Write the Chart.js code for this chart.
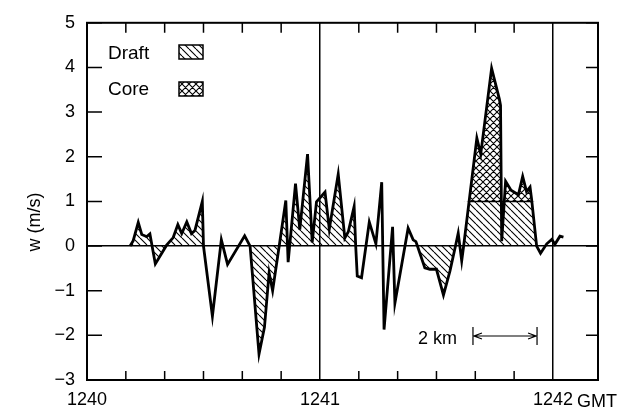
<!DOCTYPE html>
<html>
<head>
<meta charset="utf-8">
<script src="https://cdn.jsdelivr.net/npm/chart.js@4/dist/chart.umd.min.js"></script>
<style>
  html, body { margin: 0; padding: 0; background: #fff; }
  #wrap { width: 626px; height: 412px; }
</style>
</head>
<body>
<div id="wrap"><canvas id="chart" width="626" height="412"></canvas></div>
<script>
// seconds after 1240 GMT, vertical velocity w (m/s)
const times = [11.1, 11.9, 13.2, 14.1, 15.4, 16.2, 17.6, 20.5, 22.2, 23.4,
  24.4, 25.7, 26.9, 27.8, 29.7, 30.0, 32.3, 34.6, 36.2, 40.6,
  42.0, 44.3, 45.7, 46.9, 47.8, 49.5, 51.2, 51.8, 53.7, 54.8,
  56.8, 58.0, 59.1, 61.3, 62.4, 64.7, 66.4, 67.3, 68.8, 69.2,
  69.6, 70.7, 72.7, 74.4, 75.9, 76.5, 78.7, 79.3, 82.7, 84.0,
  84.7, 85.1, 87.0, 88.3, 90.0, 91.8, 93.5, 94.9, 95.6, 96.5,
  97.0, 100.4, 101.4, 104.2, 106.2, 106.5, 106.8, 107.8, 109.2, 111.1,
  112.2, 113.2, 114.1, 114.5, 115.8, 116.8, 118.4, 119.7, 120.5, 121.8, 122.7];
const w = [0, 0.12, 0.53, 0.26, 0.21, 0.27, -0.40, 0.02, 0.19, 0.48,
  0.28, 0.54, 0.28, 0.35, 1.00, 0, -1.57, 0.14, -0.41, 0.23,
  0, -2.42, -1.82, -0.60, -1.00, 0, 1.02, -0.36, 1.40, 0.37,
  2.06, 0.08, 0.99, 1.21, 0.38, 1.61, 0.18, 0.32, 0.89, 0,
  -0.67, -0.71, 0.54, 0.05, 1.43, -1.87, 0.43, -1.28, 0.40, 0.14,
  0.10, 0, -0.49, -0.52, -0.52, -1.10, -0.55, 0, 0.29, -0.33,
  0, 2.42, 2.06, 3.98, 3.29, 3.15, 0.11, 1.45, 1.25, 1.15,
  1.56, 1.22, 1.32, 1.05, 0, -0.16, 0.05, 0.15, 0.04, 0.22, 0.20];

// hatched draft intervals and cross-hatched core (w above coreLevel)
const draftStart = [11.1, 42.0, 49.5, 85.1, 97.0];
const draftEnd = [30.0, 49.5, 69.2, 94.9, 115.8];
const coreStart = [97.0];
const coreEnd = [115.8];
const coreLevel = 1;
const coreLevelSpan = [98.4, 114.5];

const xTickLabels = {0: '1240', 60: '1241', 120: '1242'};
const yTicks = [-3, -2, -1, 0, 1, 2, 3, 4, 5];

const FONT = '"Liberation Sans", Arial, sans-serif';

function pts(a, b) {
  const out = [];
  times.forEach((t, i) => { if (t >= a && t <= b) out.push({x: t, y: w[i]}); });
  return out;
}

function hatch(cross) {
  const s = 7;
  const c = document.createElement('canvas');
  c.width = s; c.height = s;
  const g = c.getContext('2d');
  if (cross) { g.fillStyle = '#fff'; g.fillRect(0, 0, s, s); }
  g.strokeStyle = '#000';
  g.lineWidth = 1.1;
  g.beginPath();
  for (const k of [-s, 0, s]) {
    g.moveTo(k, 0); g.lineTo(k + s, s);
    if (cross) { g.moveTo(k, s); g.lineTo(k + s, 0); }
  }
  g.stroke();
  return g.createPattern(c, 'repeat');
}
const draftPat = hatch(false);
const corePat = hatch(true);

const datasets = [{
  data: times.map((t, i) => ({x: t, y: w[i]})),
  borderColor: '#000', borderWidth: 2.8, pointRadius: 0, fill: false, order: 0,
  borderJoinStyle: 'miter'
}, {
  data: coreLevelSpan.map(t => ({x: t, y: coreLevel})),
  borderColor: '#000', borderWidth: 1.5, pointRadius: 0, fill: false, order: 1
}];
coreStart.forEach((s, i) => datasets.push({
  data: pts(s, coreEnd[i]), borderWidth: 0, pointRadius: 0, order: 2,
  fill: {target: {value: coreLevel}, above: corePat, below: 'rgba(0,0,0,0)'}
}));
draftStart.forEach((s, i) => datasets.push({
  data: pts(s, draftEnd[i]), borderWidth: 0, pointRadius: 0, order: 3,
  fill: 'origin', backgroundColor: draftPat
}));

const extras = {
  id: 'extras',
  afterDraw(chart) {
    const {ctx, chartArea: a, scales: {x, y}} = chart;
    ctx.save();
    ctx.strokeStyle = '#000';
    ctx.lineWidth = 2;
    ctx.strokeRect(a.left, a.top, a.right - a.left, a.bottom - a.top);
    ctx.lineWidth = 1.5;
    ctx.beginPath();
    yTicks.forEach(v => {
      const py = y.getPixelForValue(v);
      ctx.moveTo(a.left, py); ctx.lineTo(a.left + 15, py);
      ctx.moveTo(a.right, py); ctx.lineTo(a.right - 12, py);
    });
    for (let v = 10; v <= 110; v += 10) {
      if (v % 60 === 0) continue;
      const px = x.getPixelForValue(v);
      ctx.moveTo(px, a.top); ctx.lineTo(px, a.top + 10);
      ctx.moveTo(px, a.bottom); ctx.lineTo(px, a.bottom - 9);
    }
    ctx.stroke();

    ctx.fillStyle = '#000';
    ctx.font = '18px ' + FONT;
    ctx.textBaseline = 'alphabetic';
    ctx.fillText('GMT', 577, 407);

    // legend
    ctx.font = '19px ' + FONT;
    ctx.fillText('Draft', 108, 59);
    ctx.fillText('Core', 108, 95);
    ctx.lineWidth = 1.5;
    ctx.fillStyle = draftPat;
    ctx.fillRect(179, 45, 24, 14); ctx.strokeRect(179, 45, 24, 14);
    ctx.fillStyle = corePat;
    ctx.fillRect(179, 82, 24, 14); ctx.strokeRect(179, 82, 24, 14);

    // 2 km scale bar
    ctx.fillStyle = '#000';
    ctx.font = '18px ' + FONT;
    ctx.fillText('2 km', 418, 344);
    const x1 = x.getPixelForValue(99.4), x2 = x.getPixelForValue(115.9), yb = 336;
    ctx.lineWidth = 1.2;
    ctx.beginPath();
    ctx.moveTo(x1, yb - 9); ctx.lineTo(x1, yb + 9);
    ctx.moveTo(x2, yb - 9); ctx.lineTo(x2, yb + 9);
    ctx.moveTo(x1, yb); ctx.lineTo(x2, yb);
    ctx.moveTo(x1 + 9, yb - 3); ctx.lineTo(x1 + 1, yb); ctx.lineTo(x1 + 9, yb + 3);
    ctx.moveTo(x2 - 9, yb - 3); ctx.lineTo(x2 - 1, yb); ctx.lineTo(x2 - 9, yb + 3);
    ctx.stroke();

    // y axis title
    ctx.translate(35, 222);
    ctx.rotate(-Math.PI / 2);
    ctx.textAlign = 'center';
    ctx.textBaseline = 'middle';
    ctx.font = '18px ' + FONT;
    ctx.fillText('w (m/s)', 0, 0);
    ctx.restore();
  }
};

new Chart(document.getElementById('chart'), {
  type: 'line',
  data: {datasets},
  options: {
    responsive: false,
    animation: false,
    layout: {padding: {top: 13, right: 28, left: 0, bottom: 0}},
    plugins: {legend: {display: false}, tooltip: {enabled: false}},
    scales: {
      x: {
        type: 'linear', min: 0, max: 131.6,
        afterFit: s => { s.height = 32; },
        border: {display: false},
        grid: {
          drawTicks: false, lineWidth: 1.5,
          color: c => (c.tick && (c.tick.value === 60 || c.tick.value === 120)) ? '#000' : 'rgba(0,0,0,0)'
        },
        ticks: {
          stepSize: 10, autoSkip: false, maxRotation: 0, padding: 9,
          color: '#000', font: {family: FONT, size: 18},
          callback: v => xTickLabels[v] || ''
        }
      },
      y: {
        min: -3, max: 5,
        afterFit: s => { s.width = 87; },
        border: {display: false},
        grid: {
          drawTicks: false, lineWidth: 1.5,
          color: c => (c.tick && c.tick.value === 0) ? '#000' : 'rgba(0,0,0,0)'
        },
        ticks: {
          stepSize: 1, padding: 12, color: '#000',
          font: {family: FONT, size: 18},
          callback: v => v < 0 ? '\u2212' + Math.abs(v) : String(v)
        }
      }
    }
  },
  plugins: [extras]
});
</script>
</body>
</html>
